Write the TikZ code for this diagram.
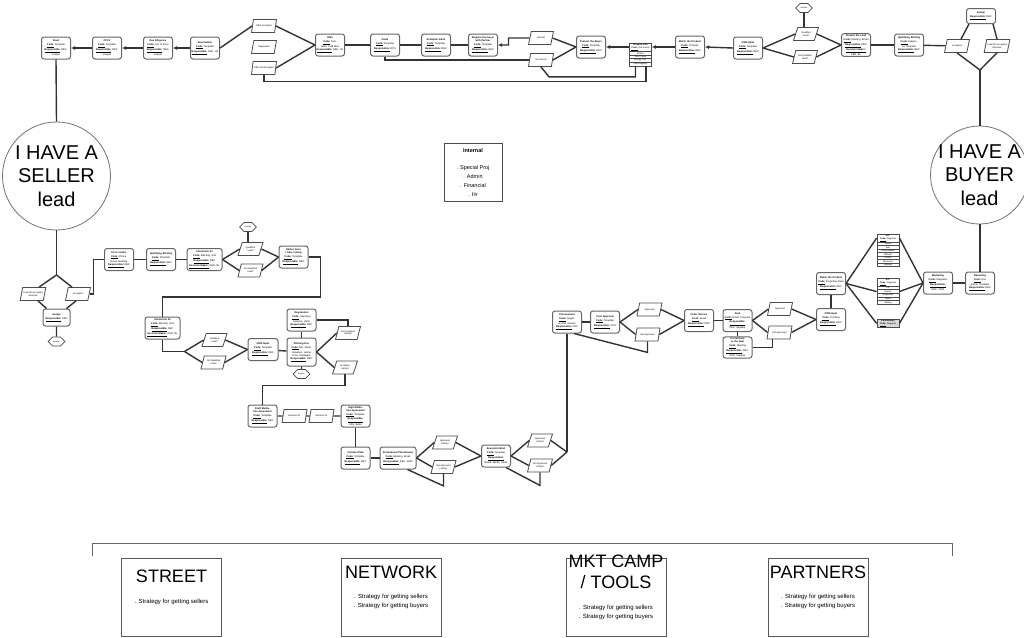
\documentclass[tikz,border=0pt]{standalone}
\usepackage{fontspec}
\setmainfont{Liberation Sans}
\setsansfont{Liberation Sans}
\usetikzlibrary{positioning,arrows.meta,shapes.geometric,shapes.symbols,shapes.multipart,calc}

\newcommand{\codeln}[1]{\underline{\textbf{Code:}} #1}
\newcommand{\respln}[1]{\underline{\textbf{Responsible:}} #1}
\newcommand{\decln}[1]{\underline{\textbf{Decision Maker:}} #1}

\begin{document}
\begin{tikzpicture}[
	x=1pt, y=-1pt,
	font=\sffamily,
	task/.style={
		draw=black!60,
		line width=1pt,
		fill=white,
		rounded corners=2.5pt,
		minimum width=29pt,
		minimum height=22pt,
		text width=27pt,
		align=center,
		inner sep=0.8pt,
		font=\fontsize{2.5}{3}\selectfont\sffamily,
	},
	choice/.style={
		draw=black!70,
		line width=0.8pt,
		fill=white,
		trapezium,
		trapezium left angle=65,
		trapezium right angle=115,
		trapezium stretches=true,
		minimum width=25pt,
		minimum height=13pt,
		inner sep=0.5pt,
		align=center,
		font=\fontsize{2.3}{2.8}\selectfont\sffamily,
	},
	stop/.style={
		draw=black!70,
		line width=0.8pt,
		fill=white,
		signal,
		signal to=east and west,
		minimum width=16pt,
		minimum height=9pt,
		inner sep=0.5pt,
		font=\fontsize{2}{2.4}\selectfont\sffamily,
	},
	files/.style={
		draw=black!70,
		line width=0.8pt,
		fill=white,
		rectangle split,
		rectangle split parts=#1,
		text width=21pt,
		align=center,
		inner sep=0.5pt,
		font=\fontsize{2.2}{2.7}\selectfont\sffamily,
	},
	lead/.style={
		circle,
		draw=black!55,
		line width=0.8pt,
		fill=white,
		inner sep=0pt,
	},
	leadtext/.style={
		align=center,
		inner sep=0pt,
		font=\fontsize{20}{23.5}\selectfont\sffamily,
	},
	dept/.style={
		draw=black!70,
		line width=0.8pt,
		minimum width=58pt,
		minimum height=58pt,
		align=center,
		font=\fontsize{5.5}{9}\selectfont\sffamily,
	},
	channel/.style={
		draw=black!65,
		line width=0.8pt,
		minimum width=100pt,
		minimum height=78pt,
	},
	chanhead/.style={font=\fontsize{18}{21}\selectfont\sffamily, align=center, inner sep=0pt},
	chanbody/.style={font=\fontsize{6}{9}\selectfont\sffamily, align=center, inner sep=0pt},
	link/.style={draw=black!80, line width=1.4pt},
	arr/.style={link, -{Latex[length=4pt,width=4pt]}},
]

\fill[white] (0,0) rectangle (1024,637);
\useasboundingbox (0,0) rectangle (1024,637);

% top row: buyer side back to the seller
\node[task] (deed) at (56,48) {\textbf{Deed}\\[1pt]\codeln{Template}\\\respln{REC,}\\Lawyer};
\node[task] (cpcv) at (107,48) {\textbf{CPCV}\\[1pt]\codeln{Template}\\\respln{REC,}\\Lawyer};
\node[task] (duedil) at (158,48) {\textbf{Due Diligence}\\[1pt]\codeln{List of Docs}\\\respln{REC,}\\Lawyer};
\node[task] (reserv) at (205,48) {\textbf{Reservation}\\[1pt]\codeln{Template}\\\respln{REC, LR}};
\node[choice] (offacc) at (264,26) {Offer Accepted};
\node[choice] (negot) at (264,47) {Negotiation};
\node[choice] (offnot) at (264,68) {Offer Not Accepted};
\node[task] (offer) at (330,45) {\textbf{Offer}\\[1pt]\codeln{Template, Cold Mail}\\\respln{REC, LR}};
\node[task] (visits) at (385,45) {\textbf{Visits}\\[1pt]\codeln{Template}\\\respln{RPS}};
\node[task] (schedule) at (436,45) {\textbf{Schedule Visits}\\[1pt]\codeln{Template}\\\respln{REC}};
\node[task] (register) at (483,45) {\textbf{Register the buyer with Partner}\\[1pt]\codeln{Template}\\\respln{REC}};
\node[choice] (interest) at (541,38) {Interest};
\node[choice] (nointerest) at (541,60) {No Interest};
\node[task] (presbuyer) at (591,47) {\textbf{Present the Buyer}\\[1pt]\codeln{Template}\\\respln{REC}};
\node[files=5, anchor=north] (propfiles) at (640.5,43) {
	\textbf{Property Files}\\\codeln{Documents}
	\nodepart{two}Photos
	\nodepart{three}Floor Plans
	\nodepart{four}Energy Cert.
	\nodepart{five}Land Registry
};
\node[task] (matchtop) at (690,47) {\textbf{Match the Product}\\[1pt]\codeln{Property}\\\respln{REC}};
\node[task] (crmtop) at (748,48) {\textbf{CRM Input}\\[1pt]\codeln{Template}\\\respln{REC}};
\node[stop] (endtop) at (804,8) {Archive};
\node[choice] (qualtop) at (806,34) {Qualified\\Lead?};
\node[choice] (notqtop) at (805,57) {Not Qualified\\Lead?};
\node[task] (preslead) at (856,45) {\textbf{Present the Lead}\\[1pt]\codeln{Meeting, Email}\\\respln{REC}\\\decln{CEO, BL}};
\node[task] (qualbrief) at (909,45) {\textbf{Qualifying Briefing}\\[1pt]\codeln{Diagnosis Template}\\\respln{REC}};
\node[choice] (acctop) at (957,46) {Accepted};
\node[choice] (dectop) at (997,46) {Lead Not Accepted\\Declined};
\node[task, minimum height=15pt] (assigntop) at (981,16) {\textbf{Assign}\\[1pt]\respln{REC}};

% the two leads and the internal box
\node[lead, minimum size=108pt] (seller) at (56.5,176) {};
\node[leadtext] (sellertext) at (seller.center) {I HAVE A\\SELLER\\lead};
\node[lead, minimum size=98pt] (buyer) at (979.5,175) {};
\node[leadtext] (buyertext) at (buyer.center) {I HAVE A\\BUYER\\lead};
\node[dept] (internal) at (473,172.5) {\textbf{Internal}\\[8pt]. Special Proj\\. Admin\\. Financial\\. Hr};

% seller flow
\node[choice] (declL) at (33,294) {Lead Not Accepted\\Declined};
\node[choice] (accL) at (78,294) {Accepted};
\node[task, minimum width=27pt, text width=25pt, minimum height=17pt] (assignL) at (56.5,317.5) {\textbf{Assign}\\[1pt]\respln{CEO}};
\node[stop] (hexL) at (56.5,341.5) {Archive};
\node[task] (first) at (119,259.5) {\textbf{First contact}\\[1pt]\codeln{Phone, Email, Meeting}\\\respln{REC}};
\node[task] (qualbriefL) at (161,259.5) {\textbf{Qualifying Briefing}\\[1pt]\codeln{Checklist}\\\respln{REC}};
\node[task, minimum width=35pt, text width=33pt] (inter1) at (204.5,259.5) {\textbf{Interaction 01}\\[1pt]\codeln{Meeting, Visit}\\\respln{REC}\\\decln{CEO, BL}};
\node[stop] (hexM) at (248,227) {Archive};
\node[choice] (qual1) at (250.5,249) {Qualified\\Lead?};
\node[choice] (notq1) at (250.5,270.5) {Not Qualified\\Lead?};
\node[task] (docs) at (293.5,257) {\textbf{Gather Docs / Take Listing}\\[1pt]\codeln{Template}\\\respln{REC}};
\node[task, minimum width=35pt, text width=33pt] (inter2) at (162.5,328) {\textbf{Interaction 02}\\[1pt]\codeln{Meeting, Visit}\\\respln{REC}\\\decln{CEO, BL}};
\node[choice] (qual2) at (214.5,340) {Qualified\\Lead?};
\node[choice] (notq2) at (213.5,362.5) {Not Qualified\\Lead?};
\node[task, minimum width=30pt, text width=28pt] (crm2) at (263,349.5) {\textbf{CRM Input}\\[1pt]\codeln{Template}\\\respln{REC}};
\node[task] (nego2) at (301.5,320) {\textbf{Negotiation}\\[1pt]\codeln{Interview, Analysis, Visits}\\\respln{REC}};
\node[task, minimum height=28pt] (pitch) at (301.5,352) {\textbf{Pitching Doc}\\[1pt]\codeln{Bio, Study, Valuation, Listing Price, Strategies}\\\respln{REC}};
\node[stop] (hexP) at (301.5,374) {Archive};
\node[choice] (notacc) at (348,333) {Not Accepted\\Listing?};
\node[choice] (accP) at (345,367.5) {Accepted\\Listing?};
\node[task] (draft) at (262.5,416) {\textbf{Draft Mediation Agreement}\\[1pt]\codeln{Template}\\\respln{REC}};
\node[choice] (rev1) at (294.5,416) {Revision 01};
\node[choice] (rev2) at (321.5,416) {Revision 02};
\node[task] (sign) at (355.5,416) {\textbf{Sign Mediation Agreement}\\[1pt]\codeln{Template}\\\respln{Ctrly, Seller}};
\node[task] (contract) at (355.5,458) {\textbf{Contract Plan}\\[1pt]\codeln{Template}\\\respln{MKT}};
\node[task, minimum width=36pt, text width=34pt] (ppr) at (398,458) {\textbf{Promotional Plan Review}\\[1pt]\codeln{Meeting, Email}\\\respln{REC, CMO}};
\node[choice] (appr1) at (445,442.5) {Approved\\Listing?};
\node[choice] (nappr1) at (443.5,467) {Not Approved\\Listing?};
\node[task] (exec) at (496,456) {\textbf{Execution Brief}\\[1pt]\codeln{Template}\\\respln{Brand, Media, Sales}};
\node[choice] (appr2) at (540,440.5) {Approved\\Listing?};
\node[choice] (nappr2) at (540,465.5) {Not Approved\\Listing?};
\node[task] (proc) at (567,322) {\textbf{Procurement}\\[1pt]\codeln{Suppliers DB, Quotes}\\\respln{PRC}};
\node[task] (cost) at (605,322) {\textbf{Cost Approval}\\[1pt]\codeln{Template}\\\respln{CFO}};
\node[choice] (appr3) at (649.5,309.5) {Approved};
\node[choice] (nappr3) at (647.5,334.5) {Not Approved};
\node[task] (order) at (699,320.5) {\textbf{Order Service}\\[1pt]\codeln{Email}\\\respln{PRC}};
\node[task] (deal) at (737.5,320.5) {\textbf{Deal}\\[1pt]\codeln{Email, Proposal}\\\respln{PRC, Supplier}};
\node[task, minimum height=21pt] (corr) at (737.5,347.5) {\textbf{Corrections to the Deal}\\[1pt]\codeln{Meeting}\\\respln{PRC, CEO, Supplier}};
\node[choice] (appr4) at (780,309) {Approved};
\node[choice] (nappr4) at (779.5,332.5) {Not Approved};
\node[task] (crm3) at (831,319.5) {\textbf{CRM Input}\\[1pt]\codeln{Tracking}\\\respln{REC}};
\node[task] (match2) at (831,283.5) {\textbf{Match the Product}\\[1pt]\codeln{Properties Data}\\\respln{REC}};
\node[files=8, anchor=north] (stl1) at (888,234) {
	\textbf{STL}\\\codeln{Diagrams}
	\nodepart{two}Email
	\nodepart{three}Ads
	\nodepart{four}Social Media
	\nodepart{five}Website
	\nodepart{six}Portals
	\nodepart{seven}Brochures
	\nodepart{eight}Signage
};
\node[files=6, anchor=north] (stl2) at (888,278) {
	\textbf{STL}\\\codeln{Diagrams}
	\nodepart{two}PR
	\nodepart{three}Events
	\nodepart{four}Magazines
	\nodepart{five}Flyers
	\nodepart{six}Mailing
};
\node[files=1, fill=black!15, anchor=north] (partn) at (888,319) {\textbf{Partnerships}\\\codeln{Diagrams}};
\node[task] (mkt) at (938,283) {\textbf{Marketing}\\[1pt]\codeln{Diagrams}\\\respln{REC, CMO}};
\node[task] (rep) at (980,283) {\textbf{Reporting}\\[1pt]\codeln{Diagrams, Template}\\\respln{REC}};

% connectors, top row
\draw[link] (deed.south) -- (seller.north);
\draw[arr] (cpcv.west) -- (deed.east);
\draw[arr] (duedil.west) -- (cpcv.east);
\draw[arr] (reserv.west) -- (duedil.east);
\draw[link] (reserv.east) -- (offacc.west);
\draw[link] (offacc.east) -- (offer.west);
\draw[link] (offnot.east) -- (offer.west);
\draw[link] (offer) -- (visits);
\draw[link] (visits) -- (schedule);
\draw[link] (schedule) -- (register);
\draw[arr] (interest.west) -| ++(-21,7) -- (register.east);
\draw[link] (visits.south) |- (nointerest.west);
\draw[link] (interest.east) -- (presbuyer.west);
\draw[link] (nointerest.east) -- (presbuyer.west);
\draw[link] (offnot.south) -- ++(0,6.5) -| ([xshift=5.5pt]propfiles.south);
\draw[link] (nointerest.south) -- ++(8,10) -| ([xshift=-5pt]propfiles.south);
\draw[arr] (propfiles.west |- presbuyer.east) -- (presbuyer.east);
\draw[arr] (matchtop.west) -- (propfiles.east |- matchtop.west);
\draw[arr] (crmtop.west) -- (matchtop.east);
\draw[link] (crmtop.east) -- (qualtop.west);
\draw[link] (crmtop.east) -- (notqtop.west);
\draw[link] (endtop.south) -- (endtop.south |- qualtop.north);
\draw[link] (qualtop.east) -- (preslead.west);
\draw[link] (notqtop.east) -- (preslead.west);
\draw[link] (preslead) -- (qualbrief);
\draw[link] (qualbrief) -- (acctop);
\draw[link] ([xshift=3pt]assigntop.south west) -- ([xshift=4pt]acctop.north);
\draw[link] ([xshift=-3pt]assigntop.south east) -- (dectop.north);
\coordinate (jbuyer) at (980,70);
\draw[link] (acctop.south) -- (jbuyer);
\draw[link] (dectop.south) -- (jbuyer);
\draw[link] (jbuyer) -- (jbuyer |- buyer.north);

% connectors, seller flow
\coordinate (jseller) at (56.5,275);
\draw[link] (seller.south) -- (jseller);
\draw[link] (jseller) -- ([xshift=6pt]declL.north);
\draw[link] (jseller) -- ([xshift=-6pt]accL.north);
\draw[link] ([xshift=5pt]declL.south) -- ([xshift=4pt]assignL.north west);
\draw[link] ([xshift=-2pt]accL.south) -- ([xshift=-4pt]assignL.north east);
\draw[link] (assignL) -- (hexL);
\draw[link] (accL.east) -- ++(4,0) |- (first.west);
\draw[link] (first) -- (qualbriefL);
\draw[link] (qualbriefL) -- (inter1);
\draw[link] (inter1.east) -- (qual1.west);
\draw[link] (inter1.east) -- (notq1.west);
\draw[link] (hexM.south) -- (hexM.south |- qual1.north);
\draw[link] (qual1.east) -- (docs.west);
\draw[link] (notq1.east) -- (docs.west);
\draw[link] (docs.east) -- ++(12,0) -- ++(0,40) -| (inter2.north);
\draw[link] (inter2.south) -- ++(0,12) -- ++(22,0) coordinate (jinter2);
\draw[link] (jinter2) -- (qual2.west);
\draw[link] (jinter2) -- (notq2.west);
\draw[link] (qual2.east) -- (crm2.west);
\draw[link] (notq2.east) -- (crm2.west);
\draw[link] (crm2) -- (pitch);
\draw[link] (nego2) -- (pitch);
\draw[link] (pitch) -- (hexP);
\draw[link] (nego2.east) -| (notacc.north);
\draw[link] (pitch.east) -- (notacc.west);
\draw[link] (pitch.east) -- (accP.west);
\draw[link] (accP.south) -- ++(0,11) -| (draft.north);
\draw[link] (draft) -- (rev1);
\draw[link] (rev1) -- (rev2);
\draw[link] (rev2) -- (sign);
\draw[link] (sign) -- (contract);
\draw[link] (contract) -- (ppr);
\draw[link] (ppr.east) -- (appr1.west);
\draw[link] (ppr.east) -- (nappr1.west);
\draw[link] (appr1.east) -- (exec.west);
\draw[link] (nappr1.east) -- (exec.west);
\draw[link] (nappr1.south) -- ++(0,12) -- ([xshift=-9pt]ppr.south east);
\draw[link] (exec.east) -- (appr2.west);
\draw[link] (exec.east) -- (nappr2.west);
\coordinate (jexec) at (567,452);
\draw[link] (appr2.east) -- (jexec);
\draw[link] (nappr2.east) -- (jexec);
\draw[link] (jexec) -- (proc.south);
\draw[link] (nappr2.south) -- ++(0,13) -- ([xshift=-5pt]exec.south east);
\draw[link] (proc) -- (cost);
\draw[link] (cost.east) -- (appr3.west);
\draw[link] (cost.east) -- (nappr3.west);
\draw[link] (appr3.east) -- (order.west);
\draw[link] (nappr3.east) -- (order.west);
\draw[link] (nappr3.south) -- ++(0,11) -- ([xshift=-8pt]proc.south east);
\draw[link] (order) -- (deal);
\draw[link] (deal) -- (corr);
\draw[link] (deal.east) -- (appr4.west);
\draw[link] (deal.east) -- (nappr4.west);
\draw[link] (corr.east) -| ([xshift=-7pt]nappr4.south);
\draw[link] (appr4.east) -- (crm3.west);
\draw[link] (nappr4.east) -- (crm3.west);
\draw[link] (crm3) -- (match2);
\draw[link] (match2.east) -- ([yshift=-4pt]stl1.north west);
\draw[link] (match2.east) -- (stl2.west);
\draw[link] (match2.east) -- (partn.west);
\draw[link] ([yshift=-4pt]stl1.north east) -- (mkt.west);
\draw[link] (stl2.east) -- (mkt.west);
\draw[link] (partn.east) -- (mkt.west);
\draw[link] (mkt) -- (rep);
\draw[link] (rep.north) -- (rep.north |- buyer.south);

% channels
\coordinate (brL) at (92,556);
\coordinate (brR) at (952,556);
\draw[draw=black!60, line width=0.8pt] (brL) -- ++(0,-13) -| (brR);

\node[channel] (street) at (171.5,597) {};
\node[channel] (network) at (391,597) {};
\node[channel] (mktcamp) at (616,597) {};
\node[channel] (partners) at (818,597) {};

\node[chanhead] (streethead) at ([yshift=-19pt]street.north) {STREET};
\node[chanbody] (streetbody) at ([yshift=-44pt]street.north) {. Strategy for getting sellers};
\node[chanhead] (networkhead) at ([yshift=-15pt]network.north) {NETWORK};
\node[chanbody] (networkbody) at ([yshift=-43.5pt]network.north) {. Strategy for getting sellers\\. Strategy for getting buyers};
\node[chanhead] (mktcamphead) at ([yshift=-14.5pt]mktcamp.north) {MKT CAMP\\/ TOOLS};
\node[chanbody] (mktcampbody) at ([yshift=-54.5pt]mktcamp.north) {. Strategy for getting sellers\\. Strategy for getting buyers};
\node[chanhead] (partnershead) at ([yshift=-15pt]partners.north) {PARTNERS};
\node[chanbody] (partnersbody) at ([yshift=-43.5pt]partners.north) {. Strategy for getting sellers\\. Strategy for getting buyers};

\end{tikzpicture}
\end{document}
